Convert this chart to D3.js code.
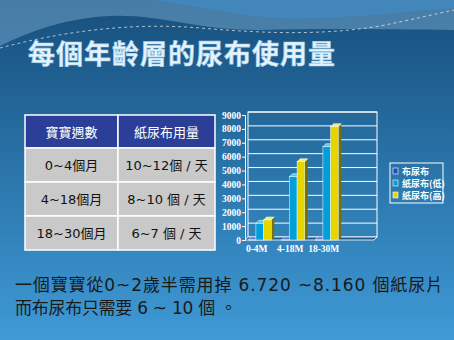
<!DOCTYPE html>
<html>
<head>
<meta charset="utf-8">
<script src="https://cdn.jsdelivr.net/npm/d3@7"></script>
<style>
  html, body { margin: 0; padding: 0; background: #2a6fa3; }
  svg { display: block; }
</style>
</head>
<body>
<div id="slide"></div>
<script>
// data
const title = "每個年齡層的尿布使用量";
const tableHeader = ["寶寶週數", "紙尿布用量"];
const tableAges = ["0~4個月", "4~18個月", "18~30個月"];
const tableUsage = ["10~12個 / 天", "8~10 個 / 天", "6~7 個 / 天"];

const categories = ["0-4M", "4-18M", "18-30M"];
const seriesNames = ["布尿布", "紙尿布(低)", "紙尿布(高)"];
const clothValues = [10, 10, 10];
const paperLow = [1200, 4560, 6720];
const paperHigh = [1440, 5640, 8160];
const yTicks = [0, 1000, 2000, 3000, 4000, 5000, 6000, 7000, 8000, 9000];

const noteLines = [
  "一個寶寶從0~2歲半需用掉 6.720 ~8.160 個紙尿片",
  "而布尿布只需要 6 ~ 10 個 。"
];

const W = 454, H = 340;
const cjk = "'Noto Sans CJK TC', 'Noto Sans CJK SC', sans-serif";
const mixed = "'DejaVu Sans', 'Noto Sans CJK TC', sans-serif";
const serif = "'Liberation Serif', 'DejaVu Serif', serif";

const svg = d3.select("#slide").append("svg")
  .attr("width", W)
  .attr("height", H);

const defs = svg.append("defs");
const bg = defs.append("linearGradient")
  .attr("id", "bg").attr("x1", 0).attr("y1", 0).attr("x2", 0).attr("y2", 1);
bg.append("stop").attr("offset", "0%").attr("stop-color", "#174f7c");
bg.append("stop").attr("offset", "35%").attr("stop-color", "#24699c");
bg.append("stop").attr("offset", "100%").attr("stop-color", "#3f9ad6");

svg.append("rect").attr("width", W).attr("height", H).attr("fill", "url(#bg)");

// wavy top decoration
svg.append("path")
  .attr("d", "M0,0 L454,0 L454,30 C400,30 330,28 260,30 C200,31 160,14 110,16 C60,18 20,36 0,46 Z")
  .attr("fill", "#8fc0e4").attr("opacity", 0.4);
svg.append("path")
  .attr("d", "M150,0 L454,0 L454,8 C400,12 340,20 280,18 C230,16 190,4 150,0 Z")
  .attr("fill", "#3d8fd0").attr("opacity", 0.5);
svg.append("path")
  .attr("d", "M0,48 C60,32 130,22 200,28 C260,33 320,36 380,26 C410,20 435,14 454,10")
  .attr("fill", "none").attr("stroke", "#ffffff").attr("stroke-width", 0.8)
  .attr("stroke-dasharray", "3,3").attr("opacity", 0.8);

// title
svg.append("text")
  .attr("x", 28).attr("y", 64)
  .attr("font-family", cjk).attr("font-weight", "bold").attr("font-size", 27)
  .attr("textLength", 307).attr("lengthAdjust", "spacing")
  .attr("fill", "#e6f3fb")
  .attr("stroke", "#9fd0ee").attr("stroke-width", 0.6)
  .text(title);

// table
const table = svg.append("g");
const colX = [25, 118, 215];
const rowY = [115, 148, 182, 216, 250];
const tRows = [tableHeader].concat(tableAges.map((a, i) => [a, tableUsage[i]]));
tRows.forEach((row, r) => {
  row.forEach((cell, c) => {
    table.append("rect")
      .attr("x", colX[c]).attr("y", rowY[r])
      .attr("width", colX[c + 1] - colX[c]).attr("height", rowY[r + 1] - rowY[r])
      .attr("fill", r === 0 ? "#2c3f98" : "#c9c9c9")
      .attr("stroke", "#ffffff").attr("stroke-width", 1.5);
    table.append("text")
      .attr("x", (colX[c] + colX[c + 1]) / 2)
      .attr("y", (rowY[r] + rowY[r + 1]) / 2 + 5)
      .attr("text-anchor", "middle")
      .attr("font-family", mixed).attr("font-size", 13)
      .attr("fill", r === 0 ? "#ffffff" : "#111111")
      .text(cell);
  });
});

// chart
const plot = { left: 245, right: 377, top: 115, bottom: 240 };
const y = d3.scaleLinear().domain([0, 9000]).range([plot.bottom, plot.top]);
// one empty slot at the right, as in the original chart
const x = d3.scaleBand().domain(categories.concat([" "])).range([243, 377]);
const xs = d3.scaleBand().domain(seriesNames).range([0, x.bandwidth()])
  .paddingInner(0).paddingOuter(0.68);

const colors = {
  "布尿布": { front: "#1f4fbf", side: "#102a66", top: "#5a7fd6" },
  "紙尿布(低)": { front: "#009fdb", side: "#00557a", top: "#5fc6ee" },
  "紙尿布(高)": { front: "#e6d600", side: "#7a7000", top: "#f3ea70" }
};
const depth = 3;

const chart = svg.append("g");

// gridlines and frame
chart.append("g").selectAll("line")
  .data(yTicks.slice(1))
  .join("line")
  .attr("x1", plot.left + depth).attr("x2", plot.right)
  .attr("y1", d => y(d) - depth).attr("y2", d => y(d) - depth)
  .attr("stroke", "#ffffff").attr("stroke-width", 1);
chart.append("rect")
  .attr("x", plot.left + depth).attr("y", plot.top - depth)
  .attr("width", plot.right - plot.left - depth).attr("height", plot.bottom - plot.top)
  .attr("fill", "none").attr("stroke", "#ffffff").attr("stroke-width", 1);
// floor
chart.append("path")
  .attr("d", `M${plot.left},${plot.bottom} L${plot.left + depth},${plot.bottom - depth} L${plot.right},${plot.bottom - depth} L${plot.right - depth},${plot.bottom} Z`)
  .attr("fill", "#1d5d8c").attr("stroke", "#ffffff").attr("stroke-width", 0.8);

// y axis
const yAxis = d3.axisLeft(y).tickValues(yTicks).tickFormat(d3.format("d"))
  .tickSize(3).tickPadding(1);
const ya = chart.append("g").attr("transform", `translate(${plot.left},0)`).call(yAxis);
ya.select(".domain").attr("stroke", "#ffffff");
ya.selectAll(".tick line").attr("stroke", "#ffffff");
ya.selectAll(".tick text")
  .attr("fill", "#ffffff").attr("font-family", serif).attr("font-weight", "bold")
  .attr("font-size", 9.5);

// bars
const seriesData = [clothValues, paperLow, paperHigh];
const barData = [];
categories.forEach((cat, i) => {
  seriesNames.forEach((s, j) => barData.push({ cat, s, v: seriesData[j][i] }));
});
const bw = xs.bandwidth();
const bars = chart.append("g").selectAll("g")
  .data(barData)
  .join("g")
  .attr("transform", d => `translate(${x(d.cat) + xs(d.s)},0)`);
bars.append("path")
  .attr("d", d => `M${bw},${y(d.v)} L${bw + depth},${y(d.v) - depth} L${bw + depth},${y(0) - depth} L${bw},${y(0)} Z`)
  .attr("fill", d => colors[d.s].side);
bars.append("path")
  .attr("d", d => `M0,${y(d.v)} L${depth},${y(d.v) - depth} L${bw + depth},${y(d.v) - depth} L${bw},${y(d.v)} Z`)
  .attr("fill", d => colors[d.s].top).attr("stroke", "#ffffff").attr("stroke-width", 0.5);
bars.append("rect")
  .attr("x", 0).attr("y", d => y(d.v))
  .attr("width", bw).attr("height", d => y(0) - y(d.v))
  .attr("fill", d => colors[d.s].front)
  .attr("stroke", "#ffffff").attr("stroke-width", 0.5);

// x labels
chart.append("g").selectAll("text")
  .data(categories)
  .join("text")
  .attr("x", d => x(d) + x.bandwidth() / 2 - 3)
  .attr("y", 252)
  .attr("text-anchor", "middle")
  .attr("font-family", serif).attr("font-weight", "bold").attr("font-size", 9.5)
  .attr("fill", "#ffffff")
  .text(d => d);

// legend
const lg = svg.append("g").attr("transform", "translate(390,163)");
lg.append("rect").attr("width", 53).attr("height", 40)
  .attr("fill", "none").attr("stroke", "#ffffff").attr("stroke-width", 1);
const li = lg.selectAll("g.item")
  .data(seriesNames)
  .join("g").attr("class", "item")
  .attr("transform", (d, i) => `translate(3,${8 + i * 12})`);
li.append("rect").attr("x", 0).attr("y", -3).attr("width", 5).attr("height", 6)
  .attr("fill", d => colors[d].front).attr("stroke", "#ffffff").attr("stroke-width", 0.6);
li.append("text").attr("x", 9).attr("y", 3.5)
  .attr("font-family", cjk).attr("font-weight", "bold").attr("font-size", 9)
  .attr("fill", "#ffffff")
  .text(d => d);

// note text
const noteWidths = [428, 222];
svg.append("g").selectAll("text")
  .data(noteLines)
  .join("text")
  .attr("x", 15)
  .attr("y", (d, i) => 291 + i * 23)
  .attr("font-family", mixed).attr("font-size", 17)
  .attr("textLength", (d, i) => noteWidths[i])
  .attr("lengthAdjust", "spacing")
  .attr("fill", "#1a1a1a")
  .text(d => d);
</script>
</body>
</html>
